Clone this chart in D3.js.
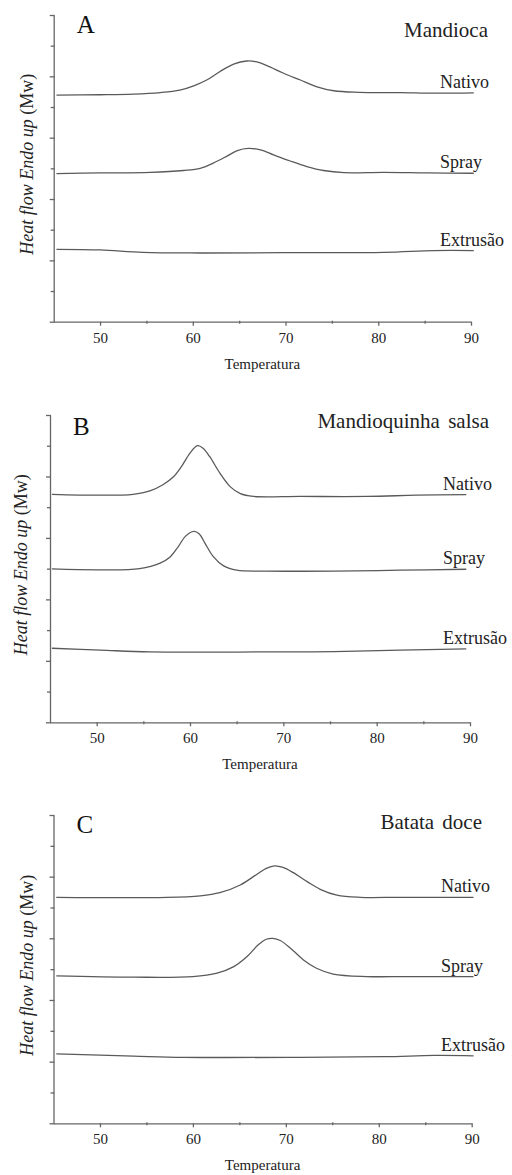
<!DOCTYPE html>
<html>
<head>
<meta charset="utf-8">
<script src="https://cdn.jsdelivr.net/npm/d3@7"></script>
<style>
  body { margin: 0; background: #fff; }
</style>
</head>
<body>
<div id="chart"></div>
<script>
// tick labels and names
var tempTicks = [50, 60, 70, 80, 90],
    tempMinor = [55, 65, 75, 85],
    yMajor = [0, 2, 4, 6, 8, 10],
    yMinor = [1, 3, 5, 7, 9];

var panelLetters = ["A", "B", "C"],
    panelTitles = ["Mandioca", "Mandioquinha salsa", "Batata doce"],
    seriesNames = ["Nativo", "Spray", "Extrusão"];

// [temperature, heat flow (arbitrary units)]
var mandiocaNativo = [[45.3,7.39],[50,7.40],[53.6,7.42],[56.5,7.47],[58.6,7.55],[60.1,7.69],[61.5,7.88],[62.9,8.15],[64.4,8.40],[65.8,8.50],[66.9,8.47],[68,8.35],[69.8,8.10],[71.6,7.88],[73.4,7.66],[75.2,7.53],[77.9,7.48],[82.4,7.47],[86,7.45],[90.3,7.46]];
var mandiocaSpray = [[45.3,4.83],[50,4.85],[55.4,4.87],[59,4.93],[60.8,5.00],[62.2,5.17],[63.7,5.40],[64.8,5.58],[66,5.65],[67.3,5.60],[68.7,5.44],[70.5,5.24],[72.3,5.06],[74.1,4.93],[76.3,4.86],[80.6,4.87],[85.3,4.85],[90.3,4.84]];
var mandiocaExtrusao = [[45.3,2.36],[50,2.34],[54.6,2.26],[60.8,2.24],[69.8,2.25],[80.6,2.26],[86,2.32],[90.3,2.32]];

var mandioquinhaNativo = [[45.2,7.42],[50.4,7.39],[53.9,7.42],[55.7,7.53],[57.1,7.73],[58.2,7.98],[59.1,8.33],[60,8.76],[60.8,9.00],[61.4,8.92],[62.1,8.65],[63.2,8.11],[64.3,7.67],[65.4,7.44],[66.8,7.35],[71.8,7.35],[79,7.35],[84.3,7.39],[89.6,7.41]];
var mandioquinhaSpray = [[45.2,4.99],[50.4,4.96],[54.6,5.00],[56.8,5.18],[57.9,5.39],[58.75,5.72],[59.5,6.05],[60.4,6.21],[61,6.13],[61.6,5.83],[62.5,5.39],[63.6,5.09],[65,4.95],[68.2,4.92],[75.4,4.92],[82.5,4.95],[89.6,4.98]];
var mandioquinhaExtrusao = [[45.2,2.41],[50.4,2.35],[55.7,2.29],[68.2,2.29],[75.4,2.30],[82.5,2.35],[89.6,2.39]];

var batataNativo = [[45.3,7.33],[57.2,7.33],[60.8,7.38],[62.9,7.48],[65.1,7.73],[66.9,8.08],[67.9,8.27],[68.8,8.35],[69.7,8.30],[70.8,8.13],[72.3,7.84],[73.7,7.59],[75.5,7.40],[78,7.33],[82.3,7.33],[90.2,7.33]];
var batataSpray = [[45.3,4.78],[53.6,4.74],[60,4.76],[62.6,4.87],[64.4,5.08],[65.8,5.40],[67,5.78],[67.9,5.97],[68.6,6.00],[69.4,5.93],[70.5,5.68],[71.9,5.30],[73.3,5.03],[75.1,4.84],[78.7,4.76],[83.1,4.76],[90.2,4.76]];
var batataExtrusao = [[45.3,2.25],[53.6,2.18],[59,2.14],[71.6,2.14],[80.6,2.16],[86,2.20],[90.2,2.19]];

var panelSeries = [
  [mandiocaNativo, mandiocaSpray, mandiocaExtrusao],
  [mandioquinhaNativo, mandioquinhaSpray, mandioquinhaExtrusao],
  [batataNativo, batataSpray, batataExtrusao]
];

// plot boxes of the three panels
var layout = [
  {left: 53.7, right: 471, top: 15, bottom: 321.7, letterY: 33, titleX: 488, titleY: 37, ylabX: 27, labelX: 440},
  {left: 50, right: 470, top: 415, bottom: 722.3, letterY: 435, titleX: 489, titleY: 428, ylabX: 21, labelX: 443},
  {left: 53.5, right: 471.7, top: 815, bottom: 1123.3, letterY: 833, titleX: 482, titleY: 829, ylabX: 27, labelX: 441}
];

var serif = '"Liberation Serif", "Times New Roman", "DejaVu Serif", serif';

var svg = d3.select("#chart")
    .append("svg")
        .attr("width", 512)
        .attr("height", 1175)
        .attr("font-family", serif);

panelSeries.forEach(function(series, i){
  var L = layout[i];

  var x = d3.scaleLinear().domain([45, 90]).range([L.left, L.right]),
      y = d3.scaleLinear().domain([0, 10]).range([L.bottom, L.top]);

  var g = svg.append("g");

  // x axis
  g.append("g")
    .attr("class", "axis")
    .attr("transform", "translate(0," + L.bottom + ")")
    .call(d3.axisBottom(x).tickValues(tempTicks).tickSize(4).tickSizeOuter(0).tickPadding(6.5))
    .attr("font-family", serif)
    .attr("font-size", 15)
    .call(function(a){ a.selectAll("text").attr("fill", "#222"); });

  g.append("g")
    .attr("class", "axis")
    .attr("transform", "translate(0," + L.bottom + ")")
    .call(d3.axisBottom(x).tickValues(tempMinor).tickSize(2).tickSizeOuter(0).tickFormat(""))
    .call(function(a){ a.select(".domain").remove(); a.selectAll("line").attr("y1", -1); });

  // y axis, no labels
  g.append("g")
    .attr("class", "axis")
    .attr("transform", "translate(" + L.left + ",0)")
    .call(d3.axisLeft(y).tickValues(yMajor).tickSize(4).tickSizeOuter(0).tickFormat(""))
    .call(function(a){ a.selectAll("line").attr("x1", 1); });

  g.append("g")
    .attr("class", "axis")
    .attr("transform", "translate(" + L.left + ",0)")
    .call(d3.axisLeft(y).tickValues(yMinor).tickSize(3).tickSizeOuter(0).tickFormat(""))
    .call(function(a){ a.select(".domain").remove(); a.selectAll("line").attr("x1", 1); });

  g.selectAll(".axis path, .axis line")
    .attr("stroke", "#666")
    .attr("stroke-width", 1.3);

  var line = d3.line()
    .x(function(d){ return x(d[0]); })
    .y(function(d){ return y(d[1]); })
    .curve(d3.curveCatmullRom.alpha(0.5));

  series.forEach(function(s, j){
    g.append("path")
      .datum(s)
      .attr("fill", "none")
      .attr("stroke", "#5a5a5a")
      .attr("stroke-width", 1.3)
      .attr("d", line);

    var last = s[s.length - 1];
    g.append("text")
      .attr("x", L.labelX)
      .attr("y", y(last[1]) - 5)
      .attr("fill", "#222")
      .attr("font-size", 18)
      .text(seriesNames[j]);
  });

  g.append("text")
    .attr("x", L.left + 23)
    .attr("y", L.letterY)
    .attr("fill", "#111")
    .attr("font-size", 25)
    .text(panelLetters[i]);

  g.append("text")
    .attr("x", L.titleX)
    .attr("y", L.titleY)
    .attr("text-anchor", "end")
    .attr("fill", "#222")
    .attr("font-size", 21)
    .attr("word-spacing", 3)
    .text(panelTitles[i]);

  g.append("text")
    .attr("x", (L.left + L.right) / 2)
    .attr("y", L.bottom + 47)
    .attr("text-anchor", "middle")
    .attr("fill", "#222")
    .attr("font-size", 15)
    .text("Temperatura");

  var ylab = g.append("text")
    .attr("transform", "translate(" + L.ylabX + "," + ((L.top + L.bottom) / 2 - 4) + ") rotate(-90)")
    .attr("text-anchor", "middle")
    .attr("dy", "0.35em")
    .attr("fill", "#222")
    .attr("font-size", 18);
  ylab.append("tspan").attr("font-style", "italic").text("Heat flow Endo up ");
  ylab.append("tspan").text("(Mw)");
});
</script>
</body>
</html>
